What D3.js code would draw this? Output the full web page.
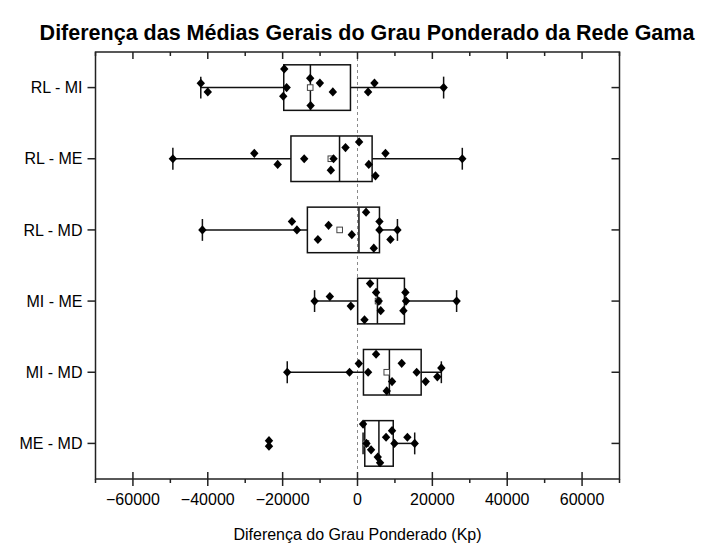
<!DOCTYPE html>
<html>
<head>
<meta charset="utf-8">
<script src="https://cdn.jsdelivr.net/npm/d3@7"></script>
<style>
  html, body { margin: 0; padding: 0; background: #fff; }
  svg { display: block; font-family: "Liberation Sans", Arial, sans-serif; }
</style>
</head>
<body>
<svg id="chart" width="704" height="544"></svg>
<script>
// Pairwise differences in mean weighted degree (Kp) per comparison
const categories = ["RL - MI", "RL - ME", "RL - MD", "MI - ME", "MI - MD", "ME - MD"];

const valuesRLMI = [-41870, -40000, -19570, -18930, -19840, -12640, -12530, -10050, -6590, 2830, 4530, 23010];
const valuesRLME = [-49330, -27570, -21330, -14240, -6400, -7120, -3200, 430, 3010, 4800, 7470, 28000];
const valuesRLMD = [-41440, -17520, -16190, -10590, -7730, -1520, 2290, 4350, 5870, 5870, 8800, 10670];
const valuesMIME = [-11470, -7390, -1790, 1870, 3360, 4960, 5680, 6210, 12800, 12960, 12270, 26480];
const valuesMIMD = [-18770, -2130, 350, 2830, 4960, 7810, 9230, 11810, 15810, 18210, 21330, 22400];
const valuesMEMD = [-23650, -23650, 1490, 2400, 3630, 5410, 6030, 7630, 9230, 9870, 13330, 15280];

// Vertical scatter of each point, as a fraction of the box half-height
const jitterRLMI = [-0.19, 0.19, -0.82, 0, 0.38, -0.41, 0.79, -0.2, 0.19, 0.19, -0.2, 0];
const jitterRLME = [0, -0.24, 0.25, 0, 0, 0.5, -0.49, -0.74, 0.25, 0.75, -0.24, 0];
const jitterRLMD = [0, -0.37, 0, 0.42, -0.2, 0.21, -0.78, 0.8, -0.37, 0, 0.42, 0];
const jitterMIME = [0, -0.2, 0.22, 0.82, -0.77, -0.38, 0, 0.42, -0.38, 0, 0.42, 0];
const jitterMIMD = [0, 0, -0.38, 0, -0.79, 0.82, 0.41, -0.39, 0, 0.41, 0.2, -0.19];
const jitterMEMD = [-0.12, 0.12, -0.85, 0, 0.28, 0.6, 0.85, -0.27, -0.56, 0, -0.27, 0];

const xTickValues = [-60000, -40000, -20000, 0, 20000, 40000, 60000];
const xMinorTicks = [-70000, -50000, -30000, -10000, 10000, 30000, 50000, 70000];
const xDomain = [-70000, 70000];

const groupValues = [valuesRLMI, valuesRLME, valuesRLMD, valuesMIME, valuesMIMD, valuesMEMD];
const groupJitter = [jitterRLMI, jitterRLME, jitterRLMD, jitterMIME, jitterMIMD, jitterMEMD];

const chartTitle = "Diferença das Médias Gerais do Grau Ponderado da Rede Gama";
const xTitle = "Diferença do Grau Ponderado (Kp)";

// ---- layout ----
const plot = { left: 95.5, right: 619.5, top: 52, bottom: 479 };

const svg = d3.select("#chart");

const x = d3.scaleLinear().domain(xDomain).range([plot.left, plot.right]);
const y = d3.scaleBand().domain(categories).range([plot.top, plot.bottom]);
const yc = c => y(c) + y.bandwidth() / 2;
const boxHalf = y.bandwidth() * 0.32;
const capHalf = boxHalf * 0.48;

// Box statistics: Tukey hinges, 1.5 IQR whiskers, mean
function stats(vals) {
  const s = vals.slice().sort(d3.ascending);
  const n = s.length;
  const half = Math.floor(n / 2);
  const lower = s.slice(0, n % 2 ? half + 1 : half);
  const upper = s.slice(half);
  const q1 = d3.median(lower), q3 = d3.median(upper);
  const med = d3.median(s);
  const iqr = q3 - q1;
  const lo = q1 - 1.5 * iqr, hi = q3 + 1.5 * iqr;
  const inside = s.filter(v => v >= lo && v <= hi);
  return { q1, q3, med, mean: d3.mean(s), wLo: d3.min(inside), wHi: d3.max(inside) };
}

// zero reference line
svg.append("line")
  .attr("x1", x(0)).attr("x2", x(0))
  .attr("y1", plot.top).attr("y2", plot.bottom)
  .attr("stroke", "#8a8a8a").attr("stroke-width", 1)
  .attr("stroke-dasharray", "3,3");

const lineStyle = sel => sel.attr("stroke", "#111").attr("stroke-width", 1.5).attr("fill", "none");

categories.forEach((cat, i) => {
  const st = stats(groupValues[i]);
  const cy = yc(cat);
  const g = svg.append("g");

  // whiskers
  g.append("line").call(lineStyle)
    .attr("x1", x(st.wLo)).attr("x2", x(st.q1)).attr("y1", cy).attr("y2", cy);
  g.append("line").call(lineStyle)
    .attr("x1", x(st.q3)).attr("x2", x(st.wHi)).attr("y1", cy).attr("y2", cy);
  [st.wLo, st.wHi].forEach(v => {
    g.append("line").call(lineStyle)
      .attr("x1", x(v)).attr("x2", x(v))
      .attr("y1", cy - capHalf).attr("y2", cy + capHalf);
  });

  // box and median
  g.append("rect").call(lineStyle)
    .attr("x", x(st.q1)).attr("y", cy - boxHalf)
    .attr("width", x(st.q3) - x(st.q1)).attr("height", 2 * boxHalf);
  g.append("line").call(lineStyle)
    .attr("x1", x(st.med)).attr("x2", x(st.med))
    .attr("y1", cy - boxHalf).attr("y2", cy + boxHalf);

  // mean marker
  g.append("rect")
    .attr("x", x(st.mean) - 2.8).attr("y", cy - 2.8)
    .attr("width", 5.6).attr("height", 5.6)
    .attr("fill", "#fff").attr("stroke", "#444").attr("stroke-width", 1);

  // data points
  const pts = groupValues[i].map((v, k) => ({ v, j: groupJitter[i][k] }));
  g.selectAll("path.pt").data(pts).join("path")
    .attr("class", "pt")
    .attr("d", d => {
      const px = x(d.v), py = cy + d.j * boxHalf;
      return `M${px},${py - 4.6}L${px + 4.2},${py}L${px},${py + 4.6}L${px - 4.2},${py}Z`;
    })
    .attr("fill", "#000");
});

// ---- frame and axes ----
const axisColor = "#222";
svg.append("rect")
  .attr("x", plot.left).attr("y", plot.top)
  .attr("width", plot.right - plot.left).attr("height", plot.bottom - plot.top)
  .attr("fill", "none").attr("stroke", axisColor).attr("stroke-width", 1.5);

// bottom axis: major ticks cross the line, minor ticks point outward
const bottomAxis = svg.append("g");
bottomAxis.selectAll("line.maj").data(xTickValues).join("line")
  .attr("class", "maj")
  .attr("x1", d => x(d)).attr("x2", d => x(d))
  .attr("y1", plot.bottom - 7).attr("y2", plot.bottom + 7)
  .attr("stroke", axisColor).attr("stroke-width", 1.5);
bottomAxis.selectAll("line.min").data(xMinorTicks).join("line")
  .attr("class", "min")
  .attr("x1", d => x(d)).attr("x2", d => x(d))
  .attr("y1", plot.bottom).attr("y2", plot.bottom + 4)
  .attr("stroke", axisColor).attr("stroke-width", 1.5);
bottomAxis.selectAll("text").data(xTickValues).join("text")
  .attr("x", d => x(d)).attr("y", plot.bottom + 26)
  .attr("text-anchor", "middle").attr("font-size", 16).attr("fill", "#000")
  .text(d => d3.format("d")(d));

// top ticks point inward
const topAxis = svg.append("g");
topAxis.selectAll("line.maj").data(xTickValues).join("line")
  .attr("class", "maj")
  .attr("x1", d => x(d)).attr("x2", d => x(d))
  .attr("y1", plot.top).attr("y2", plot.top + 7)
  .attr("stroke", axisColor).attr("stroke-width", 1.5);
topAxis.selectAll("line.min").data(xMinorTicks).join("line")
  .attr("class", "min")
  .attr("x1", d => x(d)).attr("x2", d => x(d))
  .attr("y1", plot.top).attr("y2", plot.top + 4)
  .attr("stroke", axisColor).attr("stroke-width", 1.5);

// left axis (outward ticks) and right axis (inward ticks)
const leftAxis = svg.append("g");
leftAxis.selectAll("line").data(categories).join("line")
  .attr("x1", plot.left - 8).attr("x2", plot.left)
  .attr("y1", d => yc(d)).attr("y2", d => yc(d))
  .attr("stroke", axisColor).attr("stroke-width", 1.5);
leftAxis.selectAll("text").data(categories).join("text")
  .attr("x", plot.left - 13).attr("y", d => yc(d))
  .attr("dy", "0.35em").attr("text-anchor", "end")
  .attr("font-size", 16).attr("fill", "#000")
  .text(d => d);
svg.append("g").selectAll("line").data(categories).join("line")
  .attr("x1", plot.right - 8).attr("x2", plot.right)
  .attr("y1", d => yc(d)).attr("y2", d => yc(d))
  .attr("stroke", axisColor).attr("stroke-width", 1.5);

// titles
svg.append("text")
  .attr("x", 367).attr("y", 40)
  .attr("text-anchor", "middle").attr("font-size", 21.5).attr("font-weight", "bold")
  .attr("fill", "#000").text(chartTitle);
svg.append("text")
  .attr("x", x(0)).attr("y", 540)
  .attr("text-anchor", "middle").attr("font-size", 16).attr("fill", "#000")
  .text(xTitle);
</script>
</body>
</html>
